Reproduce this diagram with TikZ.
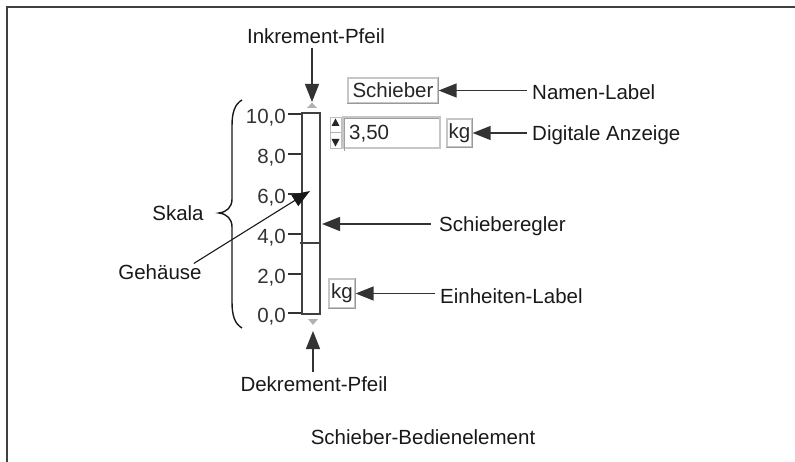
\documentclass[tikz,border=0pt]{standalone}
\usepackage{fontspec}
\setmainfont{Liberation Sans}
\usetikzlibrary{arrows.meta}
\begin{document}
\begin{tikzpicture}[x=1pt,y=-1pt,
  font=\fontsize{20.5}{24}\selectfont,
  lbl/.style={inner sep=0pt, text=black!90},
  scl/.style={inner sep=0pt, anchor=base east, text=black!80},
  tickline/.style={draw=black!80, line width=1.4pt},
  arr/.style={draw=black!80, line width=1.3pt, -{Triangle[length=18pt,width=14pt]}},
  raised/.style={draw=gray!45, line width=1.2pt, fill=white, inner sep=0pt, text=black!85},
  shade/.style={draw=gray!80, line width=1.2pt}
]
\useasboundingbox (0,0) rectangle (795,462);
% frame
\draw[line width=1.5pt, black!75] (7,462) -- (7,7) -- (795,7);

% housing
\node[draw=black!75, line width=1.8pt, minimum width=18pt, minimum height=201pt, inner sep=0pt] (housing) at (311,213.5) {};
\draw[line width=1.6pt, black!75] (300,243) -- (320,243);

% scale labels and ticks
\node[scl] (s10) at (286,123.5) {10,0};
\node[scl] (s8)  at (286,163.5) {8,0};
\node[scl] (s6)  at (286,203.5) {6,0};
\node[scl] (s4)  at (286,243.5) {4,0};
\node[scl] (s2)  at (286,283.5) {2,0};
\node[scl] (s0)  at (286,322.5) {0,0};
\draw[tickline] (288,114) -- (301,114);
\draw[tickline] (288,154) -- (301,154);
\draw[tickline] (288,194) -- (301,194);
\draw[tickline] (288,234) -- (301,234);
\draw[tickline] (288,274) -- (301,274);
\draw[tickline] (288,313) -- (301,313);

% brace
\draw[line width=1.4pt, black!90] (242,100) .. controls (235,104) and (232,112) .. (232,126)
  -- (232,199) .. controls (232,207) and (227,212) .. (219,213)
  .. controls (227,214) and (232,219) .. (232,227)
  -- (232,302) .. controls (232,316) and (235,324) .. (242,328);

% increment / decrement indicators
\fill[gray!60] (307,108) -- (312,102.5) -- (317,108) -- cycle;
\fill[gray!60] (308,319) -- (313,325) -- (318,319) -- cycle;
\coordinate (inctip) at (312,102);
\coordinate (dectip) at (313,331);

% name label box
\node[raised, minimum width=90pt, minimum height=25pt] (sch) at (393,90.5) {Schieber};
\draw[shade] (sch.north east) -- (sch.south east) -- (sch.south west);

% spin buttons
\draw[gray!50, line width=0.8pt] (330,117) rectangle (341,148);
\draw[gray!60, line width=1pt] (330,132.5) -- (341,132.5);
\fill[black!85] (331.5,126) -- (335.5,118.5) -- (339.5,126) -- cycle;
\fill[black!85] (331.5,139) -- (335.5,146.5) -- (339.5,139) -- cycle;

% digital display
\node[draw=gray!45, line width=1.2pt, fill=white, minimum width=97pt, minimum height=31pt, inner sep=0pt] (digbox) at (391.5,132.5) {};
\draw[gray!75, line width=1.2pt] ([xshift=2pt,yshift=-2pt]digbox.south west) -- ([xshift=2pt,yshift=-2pt]digbox.north west) -- ([xshift=-2pt,yshift=-2pt]digbox.north east);
\node[lbl, anchor=base west, text=black!85] (val) at (349,140) {3,50};

% unit labels
\node[raised, minimum width=25pt, minimum height=28pt] (kg1) at (459.5,133) {kg};
\draw[shade] (kg1.north east) -- (kg1.south east) -- (kg1.south west);
\node[raised, minimum width=26pt, minimum height=29pt] (kg2) at (342,293.5) {kg};
\draw[shade] (kg2.north east) -- (kg2.south east) -- (kg2.south west);

% labels
\node[lbl, anchor=base] (ink) at (316,43.5) {Inkrement-Pfeil};
\node[lbl, anchor=base] (dek) at (314,391.5) {Dekrement-Pfeil};
\node[lbl, anchor=base west] (nam) at (532,99.5) {Namen-Label};
\node[lbl, anchor=base west] (dig) at (532,140.5) {Digitale Anzeige};
\node[lbl, anchor=base west] (reg) at (439,231.5) {Schieberegler};
\node[lbl, anchor=base west] (ein) at (440,303.5) {Einheiten-Label};
\node[lbl, anchor=base] (ska) at (178,220.5) {Skala};
\node[lbl, anchor=base] (geh) at (160,279.5) {Gehäuse};
\node[lbl, anchor=base] (title) at (423,444.5) {Schieber-Bedienelement};

\coordinate (slid) at (322,224);
\coordinate (gtip) at (310,191);

% connectors
\draw[arr, shorten <=4pt] (ink.south -| inctip) -- (inctip);
\draw[arr, shorten <=4pt] (dek.north -| dectip) -- (dectip);
\draw[arr, shorten <=5pt] (nam.base west |- sch.east) -- (sch.east);
\draw[arr, shorten <=5pt] (dig.base west |- kg1.east) -- (kg1.east);
\draw[arr, shorten <=8pt] (reg.base west |- slid) -- (slid);
\draw[arr, shorten <=5pt] (ein.base west |- kg2.east) -- (kg2.east);
\draw[draw=black!90, line width=1.1pt, -{Triangle[length=18pt,width=13pt]}] ([xshift=-8pt,yshift=1pt]geh.north east) -- (gtip);
\end{tikzpicture}
\end{document}
